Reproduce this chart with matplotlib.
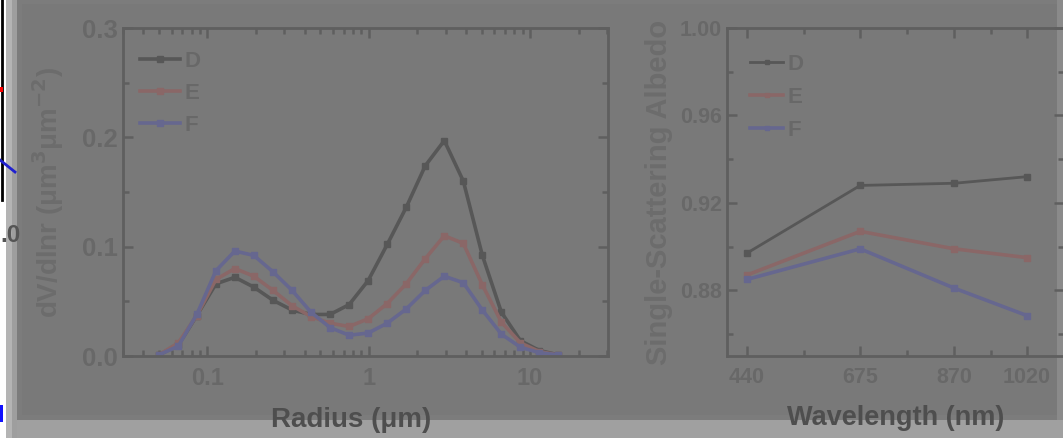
import numpy as np
import matplotlib
matplotlib.use('Agg')
import matplotlib.pyplot as plt
from matplotlib.patches import Rectangle
from matplotlib.lines import Line2D
from matplotlib.ticker import LogLocator, MultipleLocator, NullFormatter, FixedLocator

# size distribution (AERONET radius bins, um)
radius = [0.050, 0.066, 0.086, 0.113, 0.148, 0.194, 0.255, 0.335, 0.439, 0.576, 0.756,
          0.992, 1.302, 1.708, 2.241, 2.940, 3.857, 5.061, 6.641, 8.713, 11.432, 15.0]
dv_D = [0.001, 0.010, 0.037, 0.066, 0.072, 0.063, 0.051, 0.042, 0.038, 0.038, 0.047,
        0.069, 0.102, 0.136, 0.174, 0.197, 0.160, 0.092, 0.040, 0.014, 0.005, 0.001]
dv_E = [0.001, 0.012, 0.037, 0.070, 0.080, 0.073, 0.060, 0.046, 0.036, 0.030, 0.027,
        0.034, 0.048, 0.066, 0.089, 0.110, 0.103, 0.065, 0.031, 0.012, 0.004, 0.001]
dv_F = [0.001, 0.009, 0.038, 0.078, 0.096, 0.092, 0.077, 0.060, 0.040, 0.026, 0.019,
        0.021, 0.030, 0.043, 0.060, 0.073, 0.067, 0.042, 0.020, 0.008, 0.003, 0.001]

# single scattering albedo
wavelength = [440, 675, 870, 1020]
ssa_D = [0.897, 0.928, 0.929, 0.932]
ssa_E = [0.887, 0.907, 0.899, 0.895]
ssa_F = [0.885, 0.899, 0.881, 0.8685]

labels = ['D', 'E', 'F']
colors = ['#575757', '#8a6767', '#66678f']

plt.rcParams['font.family'] = ['Liberation Sans', 'DejaVu Sans']
plt.rcParams['font.weight'] = 'bold'

axc = '#5f5f5f'    # spines / ticks
tkc = '#686868'    # tick labels

fig = plt.figure(figsize=(10.63, 4.38), dpi=100)
fig.patch.set_facecolor('#a0a0a0')

W, H = 1063.0, 438.0
def frect(x0, y0, x1, y1, c, z=-10):
    # rectangle in pixel coords from top-left
    fig.add_artist(Rectangle((x0 / W, 1 - y1 / H), (x1 - x0) / W, (y1 - y0) / H,
                             transform=fig.transFigure, facecolor=c, edgecolor='none', zorder=z))

# screenshot frame / overlay
frect(0, 0, 6, 438, 'white')
frect(6, 0, 12, 438, '#b4b4b4')
frect(12, 0, 17, 438, '#9e9e9e')
frect(17, 0, 1057, 420, '#7c7c7c')
frect(22, 4, 1057, 415, '#797979')
frect(1057, 0, 1063, 438, '#8a8a8a')
frect(1057, 420, 1063, 438, '#a0a0a0')
frect(0, 405, 3, 422, '#1010ff', z=-5)
fig.add_artist(Line2D([2 / W, 2 / W], [1, 1 - 200 / H], transform=fig.transFigure,
                      color='black', lw=2, zorder=-5))
fig.add_artist(Line2D([0, 15 / W], [1 - 160 / H, 1 - 172 / H], transform=fig.transFigure,
                      color='#2020d0', lw=2, zorder=-5))
fig.add_artist(Rectangle((0, 1 - 92 / H), 3 / W, 5 / H, transform=fig.transFigure,
                         facecolor='red', edgecolor='none', zorder=-5))
fig.text(0, 1 - 236 / H, '.0', ha='left', va='center', fontsize=17.5, color='#555555')


def style(ax):
    ax.set_facecolor('none')
    for s in ax.spines.values():
        s.set_color(axc)
        s.set_linewidth(2)
    ax.tick_params(which='both', direction='in', top=True, right=True,
                   color=axc, labelcolor=tkc, width=1.8)
    ax.tick_params(which='major', length=7)
    ax.tick_params(which='minor', length=4)


# left panel: size distribution
ax1 = fig.add_axes([123 / W, 82 / H, 485 / W, 328 / H])
style(ax1)
for y, c, lab in zip([dv_D, dv_E, dv_F], colors, labels):
    ax1.plot(radius, y, '-s', color=c, lw=2.6, ms=5, label=lab)
ax1.set_xscale('log')
ax1.set_xlim(0.03, 30.4)
ax1.set_ylim(0, 0.3)
ax1.xaxis.set_major_locator(FixedLocator([0.1, 1, 10]))
ax1.set_xticklabels(['0.1', '1', '10'])
ax1.xaxis.set_minor_locator(LogLocator(base=10, subs=np.arange(2, 10), numticks=20))
ax1.xaxis.set_minor_formatter(NullFormatter())
ax1.yaxis.set_minor_locator(MultipleLocator(0.05))
ax1.set_yticks([0, 0.1, 0.2, 0.3])
ax1.set_yticklabels(['0.0', '0.1', '0.2', '0.3'], fontsize=18.5)
ax1.tick_params(axis='x', labelsize=17, pad=8)
ax1.tick_params(axis='y', pad=4)
ax1.set_xlabel('Radius (\u03bcm)', fontsize=20, color='#4e4e4e', fontweight='bold')
ax1.xaxis.set_label_coords(0.47, -0.155)
ax1.set_ylabel('dV/dlnr (\u03bcm$^3$\u03bcm$^{-2}$)', fontsize=20, color='#6c6c6c',
               fontweight='bold')
ax1.yaxis.set_label_coords(-0.118, 0.5)
leg1 = ax1.legend(loc='upper left', bbox_to_anchor=(0.0, 0.982), frameon=False,
                  fontsize=16, handlelength=1.8, handletextpad=0.2, labelspacing=0.5,
                  borderaxespad=0.35, markerscale=0.8, labelcolor=tkc)

# right panel: single scattering albedo
ax2 = fig.add_axes([727 / W, 82 / H, 337 / W, 328 / H])
style(ax2)
lws = [2.0, 2.6, 2.6]
for y, c, lab, lw in zip([ssa_D, ssa_E, ssa_F], colors, labels, lws):
    ax2.plot(wavelength, y, '-s', color=c, lw=lw, ms=4.5, label=lab)
ax2.set_xlim(399, 1097)
ax2.set_ylim(0.85, 1.0)
ax2.set_xticks(wavelength)
ax2.set_xticklabels([str(w) for w in wavelength])
ax2.xaxis.set_minor_locator(FixedLocator([(wavelength[i] + wavelength[i + 1]) / 2
                                          for i in range(len(wavelength) - 1)]))
ax2.set_yticks([0.88, 0.92, 0.96, 1.00])
ax2.set_yticklabels(['0.88', '0.92', '0.96', '1.00'])
ax2.yaxis.set_minor_locator(MultipleLocator(0.02))
ax2.tick_params(axis='both', labelsize=15.5)
ax2.tick_params(axis='x', pad=8)
ax2.set_xlabel('Wavelength (nm)', fontsize=19.5, color='#4e4e4e', fontweight='bold')
ax2.xaxis.set_label_coords(0.5, -0.15)
ax2.set_ylabel('Single-Scattering Albedo', fontsize=21, color='#6c6c6c', fontweight='bold')
ax2.yaxis.set_label_coords(-0.16, 0.5)
leg2 = ax2.legend(loc='upper left', bbox_to_anchor=(0.02, 0.973), frameon=False,
                  fontsize=16, handlelength=1.45, handletextpad=0.2, labelspacing=0.55,
                  borderaxespad=0.35, markerscale=0.7, labelcolor=tkc)

fig.savefig('out.png', dpi=100, facecolor=fig.get_facecolor())
